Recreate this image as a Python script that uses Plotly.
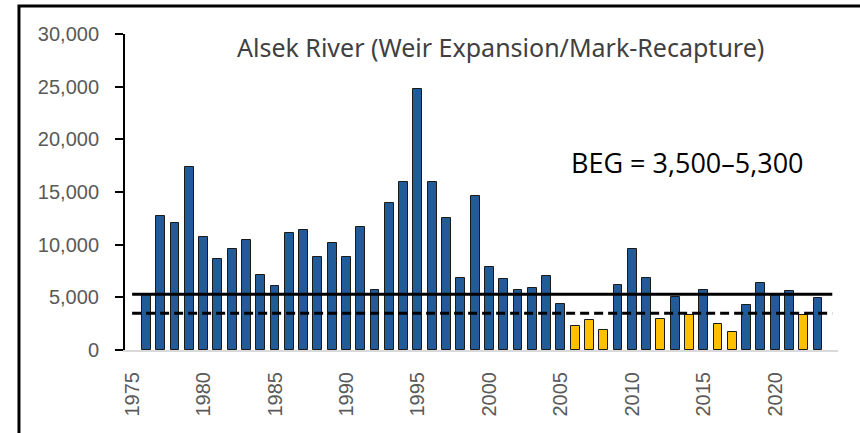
import plotly.graph_objects as go

# Alsek River sockeye escapement (weir expansion / mark-recapture)
years = list(range(1976, 2024))
escapement = [5300, 12750, 12050, 17400, 10750, 8600, 9580, 10400, 7150, 6100,
              11100, 11350, 8800, 10150, 8800, 11700, 5700, 13950, 15950, 24800,
              15950, 12500, 6850, 14650, 7900, 6750, 5650, 5900, 7050, 4400,
              2300, 2870, 1900, 6200, 9550, 6800, 2950, 5030, 3350, 5730,
              2500, 1670, 4270, 6370, 5250, 5640, 3350, 4900]

# biological escapement goal range
goal_lower = 3500
goal_upper = 5300
goal_span = [1975, 2024]

x_ticks = list(range(1975, 2021, 5))
y_ticks = list(range(0, 30001, 5000))

colors = ['#FFC000' if v < goal_lower else '#235B98' for v in escapement]

fig = go.Figure()

fig.add_trace(go.Bar(
    x=years, y=escapement,
    marker=dict(color=colors, line=dict(color='#1a1a1a', width=1)),
    width=0.62,
    showlegend=False,
))

fig.add_trace(go.Scatter(
    x=goal_span, y=[goal_upper, goal_upper], mode='lines',
    line=dict(color='black', width=3), showlegend=False,
))
fig.add_trace(go.Scatter(
    x=goal_span, y=[goal_lower, goal_lower], mode='lines',
    line=dict(color='black', width=3, dash='9px,5px'), showlegend=False,
))

tick_font = dict(family='Liberation Sans, Arial, sans-serif', size=20, color='#595959')

fig.update_layout(
    width=860, height=433,
    margin=dict(l=125, r=22, t=34, b=83),
    paper_bgcolor='white', plot_bgcolor='white',
    bargap=0,
    xaxis=dict(
        range=[1974.5, 2024.4],
        tickvals=x_ticks, ticktext=[str(t) for t in x_ticks],
        tickangle=-90, tickfont=tick_font,
        showgrid=False, zeroline=False,
        showline=True, linecolor='#D9D9D9', linewidth=2,
        ticks='', ticklabelstandoff=12,
    ),
    yaxis=dict(
        range=[0, 30000],
        tickvals=y_ticks, ticktext=[f'{t:,}' for t in y_ticks],
        tickfont=tick_font,
        showgrid=False, zeroline=False,
        showline=True, linecolor='black', linewidth=2,
        ticks='outside', ticklen=8, tickwidth=2, tickcolor='black',
        ticklabelstandoff=12,
    ),
    annotations=[
        dict(text='Alsek River (Weir Expansion/Mark-Recapture)',
             xref='paper', yref='paper', x=0.526, y=0.959,
             xanchor='center', yanchor='middle', showarrow=False,
             font=dict(family='Noto Sans, sans-serif', size=25, color='#404040')),
        dict(text='BEG = 3,500–5,300',
             xref='paper', yref='paper', x=0.789, y=0.592,
             xanchor='center', yanchor='middle', showarrow=False,
             font=dict(family='Open Sans, sans-serif', size=27, color='black')),
    ],
    shapes=[
        dict(type='rect', xref='paper', yref='paper',
             x0=-0.1487, x1=1.3, y0=-0.6, y1=1.0886,
             line=dict(color='black', width=3), fillcolor='rgba(0,0,0,0)'),
    ],
)

# drop the default body margin so the figure fills the window exactly
fig.write_html('out.html', config={'displayModeBar': False},
               post_script="document.body.style.margin = '0';")
